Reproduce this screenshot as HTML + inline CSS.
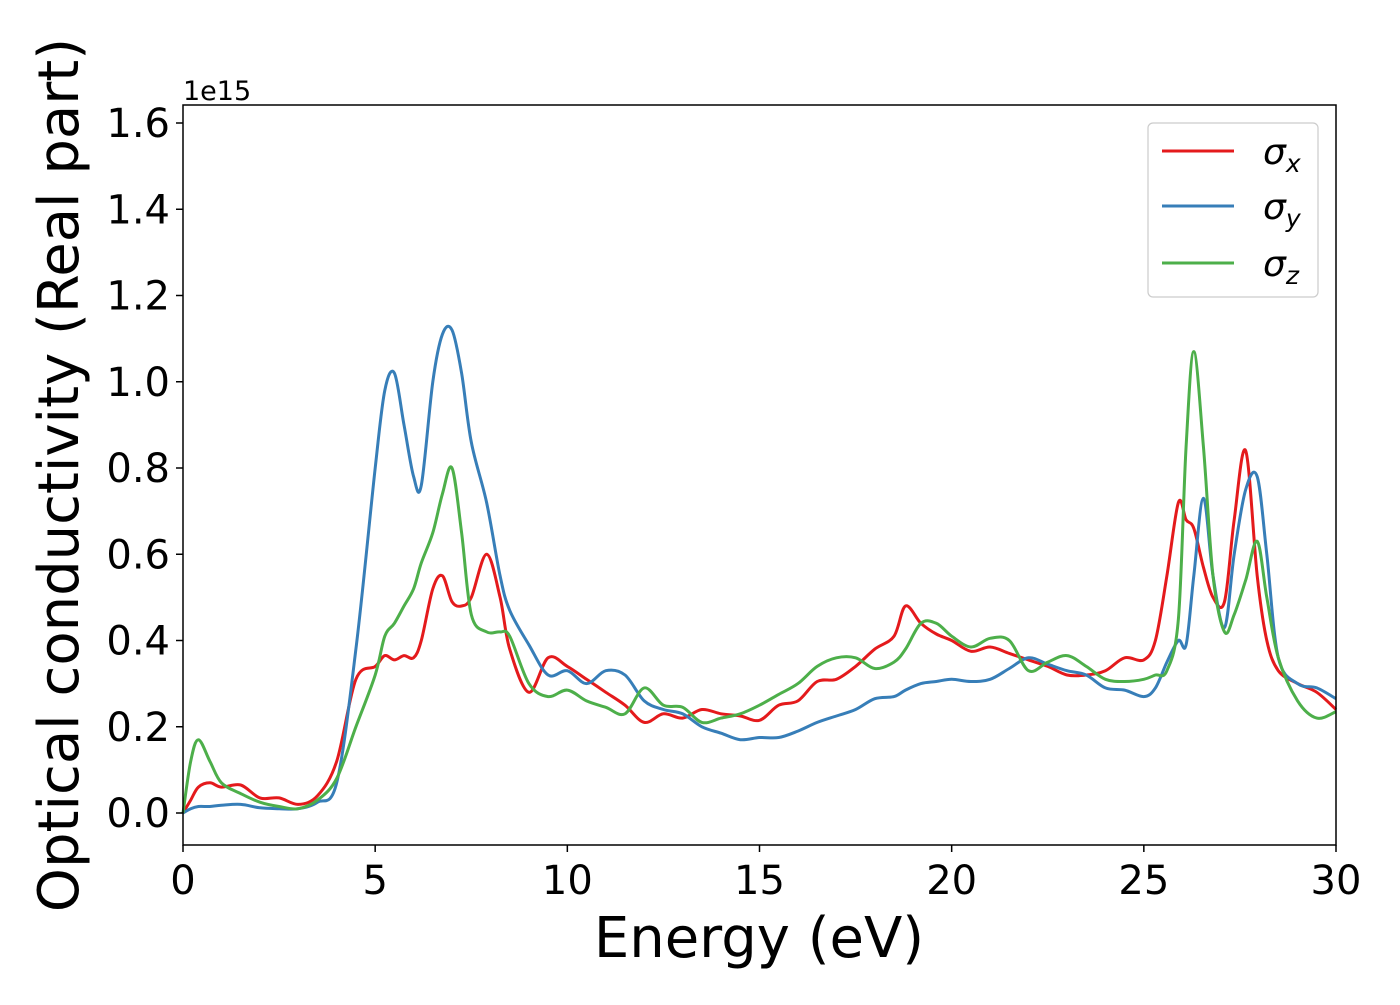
<!DOCTYPE html>
<html><head><meta charset="utf-8"><style>
html,body{margin:0;padding:0;background:#fff;}
svg text{font-family:"DejaVu Sans","Liberation Sans",sans-serif;fill:#000;}
</style></head><body>
<svg id="chart" width="1400" height="1000" viewBox="0 0 1400 1000" xmlns="http://www.w3.org/2000/svg">
<rect x="0" y="0" width="1400" height="1000" fill="#fff"/>
<g id="series"></g>
<rect x="183" y="105" width="1153" height="740" fill="none" stroke="#000" stroke-width="1.5"/>
<g id="xticks"></g><g id="yticks"></g>
<text x="183" y="100" font-size="27">1e15</text>
<text x="759" y="957" font-size="56" text-anchor="middle">Energy (eV)</text>
<text transform="translate(78,475) rotate(-90)" font-size="56" text-anchor="middle">Optical conductivity (Real part)</text>
<g>
<rect x="1148" y="123" width="170" height="174" rx="5" fill="#fff" stroke="#ccc" stroke-width="1.2"/>
<line x1="1162" y1="151" x2="1234" y2="151" stroke="#e41a1c" stroke-width="3"/>
<text x="1263" y="164" font-size="36" font-style="italic">σ<tspan font-size="25" dy="8">x</tspan></text>
<line x1="1162" y1="206" x2="1234" y2="206" stroke="#377eb8" stroke-width="3"/>
<text x="1263" y="219" font-size="36" font-style="italic">σ<tspan font-size="25" dy="8">y</tspan></text>
<line x1="1162" y1="263" x2="1234" y2="263" stroke="#4daf4a" stroke-width="3"/>
<text x="1263" y="276" font-size="36" font-style="italic">σ<tspan font-size="25" dy="8">z</tspan></text>
</g>
</svg>
<script>
const energies=[0,0.2,0.4,0.7,1.0,1.5,2.0,2.5,3.0,3.5,4.0,4.5,5.0,5.25,5.5,5.75,6.0,6.2,6.5,6.75,7.0,7.25,7.5,7.9,8.25,8.5,9.0,9.5,10,10.5,11,11.5,12,12.5,13,13.5,14,14.5,15,15.5,16,16.5,17,17.5,18,18.5,18.8,19.2,19.6,20,20.5,21,21.5,22,22.5,23,23.5,24,24.5,25,25.3,25.6,25.9,26.1,26.3,26.55,26.8,27.1,27.35,27.65,27.95,28.2,28.5,29,29.5,30];
const sigmaX=[0,0.03,0.06,0.07,0.06,0.065,0.035,0.035,0.02,0.04,0.12,0.31,0.34,0.365,0.355,0.365,0.36,0.4,0.52,0.55,0.49,0.48,0.5,0.6,0.5,0.38,0.28,0.36,0.34,0.31,0.28,0.25,0.21,0.23,0.22,0.24,0.23,0.225,0.215,0.25,0.26,0.305,0.31,0.34,0.38,0.41,0.48,0.44,0.415,0.4,0.375,0.385,0.37,0.355,0.34,0.32,0.32,0.33,0.36,0.355,0.4,0.55,0.72,0.68,0.66,0.57,0.5,0.49,0.68,0.84,0.55,0.4,0.33,0.3,0.28,0.24];
const sigmaY=[0,0.01,0.015,0.015,0.018,0.02,0.012,0.01,0.01,0.025,0.07,0.38,0.8,0.98,1.02,0.9,0.78,0.76,1.0,1.11,1.12,1.02,0.86,0.72,0.55,0.47,0.39,0.32,0.33,0.3,0.33,0.32,0.26,0.24,0.23,0.2,0.185,0.17,0.175,0.175,0.19,0.21,0.225,0.24,0.265,0.27,0.285,0.3,0.305,0.31,0.305,0.31,0.335,0.36,0.345,0.33,0.32,0.29,0.285,0.27,0.29,0.35,0.4,0.39,0.55,0.73,0.55,0.43,0.6,0.75,0.78,0.6,0.36,0.3,0.29,0.265];
const sigmaZ=[0,0.12,0.17,0.12,0.07,0.045,0.025,0.015,0.01,0.03,0.08,0.2,0.32,0.41,0.44,0.48,0.52,0.58,0.65,0.74,0.8,0.65,0.46,0.42,0.42,0.41,0.3,0.27,0.285,0.26,0.245,0.23,0.29,0.25,0.245,0.21,0.22,0.23,0.25,0.275,0.3,0.34,0.36,0.36,0.335,0.35,0.38,0.44,0.44,0.41,0.385,0.405,0.4,0.33,0.35,0.365,0.34,0.31,0.305,0.31,0.32,0.33,0.45,0.85,1.07,0.85,0.55,0.42,0.46,0.54,0.63,0.5,0.36,0.26,0.22,0.235];
const xTickVals=[0,5,10,15,20,25,30];
const yTickVals=[0,0.2,0.4,0.6,0.8,1.0,1.2,1.4,1.6];
const yTickLabels=["0.0","0.2","0.4","0.6","0.8","1.0","1.2","1.4","1.6"];

const X0=183,X1=1336,XMIN=0,XMAX=30;
const Y0=813,YPER=431.25;
function xs(v){return X0+(v-XMIN)/(XMAX-XMIN)*(X1-X0);}
function ys(v){return Y0-v*YPER;}
const NS="http://www.w3.org/2000/svg";
function pathFor(vals){
  const p=energies.map((e,i)=>[xs(e),ys(vals[i])]);
  let d="M"+p[0][0].toFixed(1)+","+p[0][1].toFixed(1);
  for(let i=0;i<p.length-1;i++){
    const a=p[Math.max(0,i-1)],b=p[i],c=p[i+1],e=p[Math.min(p.length-1,i+2)];
    const c1=[b[0]+(c[0]-a[0])/6,b[1]+(c[1]-a[1])/6];
    const c2=[c[0]-(e[0]-b[0])/6,c[1]-(e[1]-b[1])/6];
    d+="C"+c1[0].toFixed(1)+","+c1[1].toFixed(1)+" "+c2[0].toFixed(1)+","+c2[1].toFixed(1)+" "+c[0].toFixed(1)+","+c[1].toFixed(1);
  }
  return d;
}
const g=document.getElementById("series");


[[sigmaX,"#e41a1c","sigma-x-line"],[sigmaY,"#377eb8","sigma-y-line"],[sigmaZ,"#4daf4a","sigma-z-line"]].forEach(s=>{
  const el=document.createElementNS(NS,"path");
  el.setAttribute("d",pathFor(s[0]));
  el.setAttribute("fill","none");
  el.setAttribute("stroke",s[1]);
  el.setAttribute("stroke-width","3");
  
  
  g.appendChild(el);
});
const xt=document.getElementById("xticks");
xTickVals.forEach(v=>{
  const l=document.createElementNS(NS,"line");
  l.setAttribute("x1",xs(v));l.setAttribute("x2",xs(v));
  l.setAttribute("y1",845);l.setAttribute("y2",852);
  l.setAttribute("stroke","#000");l.setAttribute("stroke-width","1.5");
  
  
  xt.appendChild(l);
  const t=document.createElementNS(NS,"text");
  t.setAttribute("x",xs(v));t.setAttribute("y",894);
  t.setAttribute("font-size","40");t.setAttribute("text-anchor","middle");
  t.textContent=String(v);
  
  
  xt.appendChild(t);
});
const yt=document.getElementById("yticks");
yTickVals.forEach((v,i)=>{
  const l=document.createElementNS(NS,"line");
  l.setAttribute("x1",176);l.setAttribute("x2",183);
  l.setAttribute("y1",ys(v));l.setAttribute("y2",ys(v));
  l.setAttribute("stroke","#000");l.setAttribute("stroke-width","1.5");
  
  
  yt.appendChild(l);
  const t=document.createElementNS(NS,"text");
  t.setAttribute("x",170);t.setAttribute("y",ys(v)+14);
  t.setAttribute("font-size","40");t.setAttribute("text-anchor","end");
  t.textContent=yTickLabels[i];
  
  
  yt.appendChild(t);
});
</script>
</body></html>
